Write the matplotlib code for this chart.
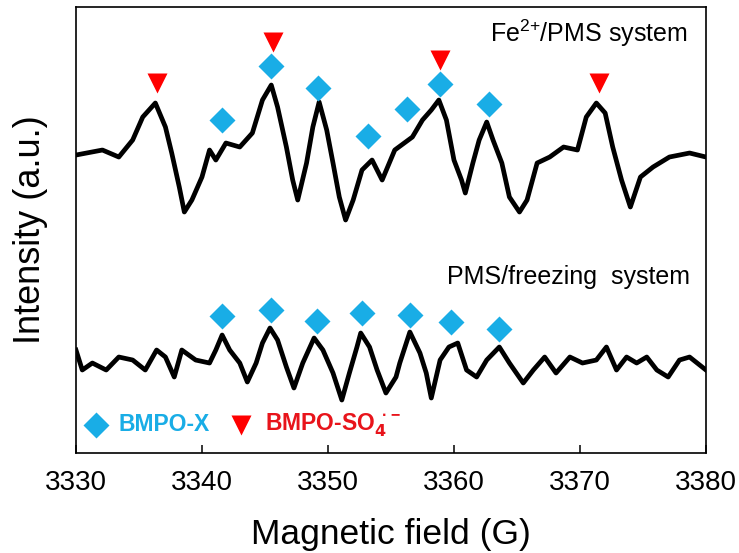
import matplotlib
matplotlib.use("Agg")
import matplotlib.pyplot as plt

plt.rcParams["font.family"] = ["Liberation Sans", "DejaVu Sans"]
plt.rcParams["mathtext.default"] = "regular"

# field (G) and intensity (a.u.)
fe_field = [3330.0, 3332.1, 3333.4, 3334.5, 3335.3, 3336.3, 3337.1, 3337.6, 3338.2, 3338.6,
            3339.2, 3340.0, 3340.6, 3341.1, 3341.9, 3343.0, 3344.0, 3344.8, 3345.5, 3346.0,
            3346.7, 3347.2, 3347.6, 3348.3, 3348.8, 3349.3, 3349.9, 3350.4, 3350.9, 3351.4,
            3352.0, 3352.7, 3353.5, 3354.3, 3355.3, 3356.7, 3357.5, 3358.2, 3358.8, 3359.4,
            3360.0, 3360.6, 3360.9, 3361.5, 3362.0, 3362.6, 3363.1, 3363.8, 3364.4, 3365.2,
            3365.8, 3366.6, 3367.6, 3368.7, 3369.8, 3370.5, 3371.3, 3372.0, 3372.6, 3373.3,
            3374.0, 3374.8, 3375.8, 3377.1, 3378.7, 3380.0]
fe_int = [298, 303, 296, 313, 336, 350, 326, 300, 266, 241,
          253, 276, 303, 293, 310, 306, 320, 353, 368, 346,
          306, 273, 253, 290, 326, 351, 323, 290, 256, 233,
          253, 283, 293, 273, 303, 316, 333, 343, 353, 333,
          293, 273, 260, 290, 313, 331, 313, 290, 256, 241,
          253, 290, 296, 306, 303, 336, 350, 340, 306, 273,
          246, 276, 286, 296, 300, 296]

fr_field = [3330.0, 3330.5, 3331.3, 3332.4, 3333.4, 3334.5, 3335.5, 3336.4, 3337.1, 3337.8,
            3338.4, 3339.5, 3340.6, 3341.1, 3341.6, 3342.2, 3343.0, 3343.6, 3344.3, 3344.8,
            3345.4, 3346.0, 3346.7, 3347.3, 3348.0, 3348.9, 3349.6, 3350.4, 3351.1, 3351.7,
            3352.3, 3352.6, 3353.3, 3353.9, 3354.6, 3355.4, 3355.7, 3356.5, 3357.3, 3357.8,
            3358.2, 3358.9, 3359.6, 3360.3, 3361.0, 3361.8, 3362.6, 3363.6, 3364.4, 3365.5,
            3366.3, 3367.2, 3368.1, 3369.2, 3370.2, 3371.3, 3372.1, 3372.9, 3373.7, 3374.5,
            3375.3, 3376.1, 3377.0, 3377.9, 3378.7, 3380.0]
fr_int = [103, 83, 90, 83, 96, 93, 83, 103, 96, 76,
          103, 93, 90, 103, 118, 103, 90, 71, 90, 110,
          125, 113, 86, 65, 90, 115, 103, 80, 53, 80,
          106, 120, 106, 83, 60, 76, 90, 121, 100, 80,
          55, 93, 106, 110, 83, 76, 93, 106, 90, 70,
          83, 96, 80, 96, 90, 93, 106, 83, 96, 90,
          96, 83, 76, 93, 96, 83]

# peak markers
fe_x_field = [3341.6, 3345.5, 3349.2, 3353.2, 3356.3, 3358.9, 3362.8]
fe_x_int = [333, 387, 365, 317, 344, 369, 349]
fe_so4_field = [3336.4, 3345.6, 3358.9, 3371.5]
fe_so4_int = [370, 411, 393, 370]
fr_x_field = [3341.6, 3345.5, 3349.1, 3352.7, 3356.5, 3359.8, 3363.6]
fr_x_int = [137, 143, 132, 140, 138, 131, 124]

x_ticks = [3330, 3340, 3350, 3360, 3370, 3380]

CYAN = "#19ADE6"
RED = "#FF0000"

fig = plt.figure(figsize=(7.39, 5.53), dpi=100)
ax = fig.add_axes([0.1028, 0.1808, 0.8525, 0.8065])

ax.plot(fe_field, fe_int, color="black", lw=3.4, solid_joinstyle="round")
ax.plot(fr_field, fr_int, color="black", lw=3.4, solid_joinstyle="round")

ax.plot(fe_x_field, fe_x_int, ls="none", marker="D", ms=13, color=CYAN, mec="none")
ax.plot(fe_so4_field, fe_so4_int, ls="none", marker="v", ms=15, color=RED, mec="none")
ax.plot(fr_x_field, fr_x_int, ls="none", marker="D", ms=13, color=CYAN, mec="none")

# legend drawn by hand, like the original
ax.plot([0.032], [0.063], transform=ax.transAxes, marker="D", ms=13, color=CYAN,
        mec="none", clip_on=False)
ax.text(0.067, 0.063, "BMPO-X", transform=ax.transAxes, color=CYAN, fontsize=16.5,
        fontweight="bold", va="center", ha="left")
ax.plot([0.262], [0.063], transform=ax.transAxes, marker="v", ms=15, color=RED,
        mec="none", clip_on=False)
ax.text(0.300, 0.063, r"BMPO-SO$_{\mathbf{4}}^{\;\bullet\!-}$", transform=ax.transAxes,
        color="#E8141B", fontsize=16.5, fontweight="bold", va="center", ha="left")

ax.text(0.971, 0.942, r"Fe$^{2\!+}\!$/PMS system", transform=ax.transAxes, fontsize=18,
        ha="right", va="center")
ax.text(0.975, 0.395, "PMS/freezing  system", transform=ax.transAxes, fontsize=18,
        ha="right", va="center")

ax.set_xlim(3330, 3380)
ax.set_ylim(0, 446)
ax.set_xticks(x_ticks)
ax.set_yticks([])
ax.tick_params(axis="x", direction="in", length=6, width=1.1, labelsize=20, pad=12)
for s in ax.spines.values():
    s.set_linewidth(1.2)

ax.set_xlabel("Magnetic field (G)", fontsize=25.5, labelpad=16)
ax.set_ylabel("Intensity (a.u.)", fontsize=26, labelpad=20)

fig.savefig("out.png", dpi=100)
